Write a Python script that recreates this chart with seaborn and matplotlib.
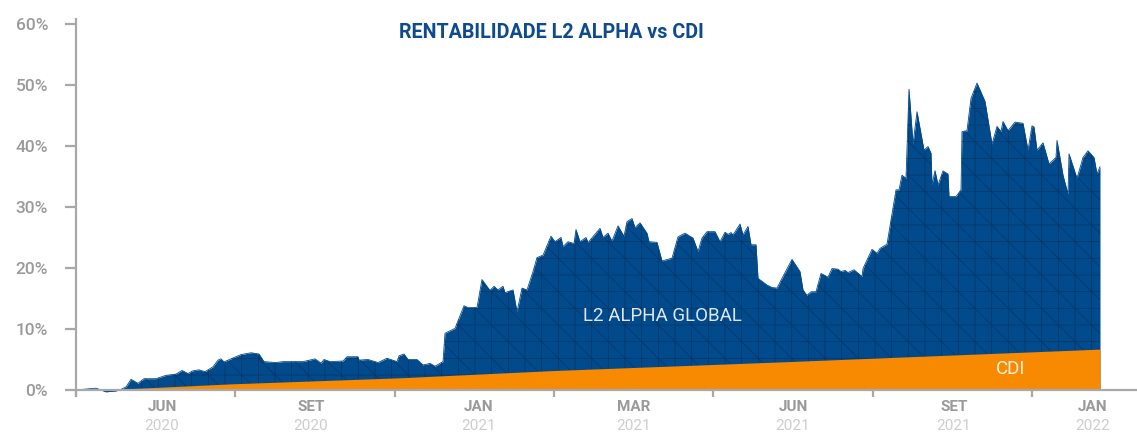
import numpy as np
import matplotlib.pyplot as plt
import matplotlib.transforms as mtransforms
import pandas as pd
import seaborn as sns

# posição ao longo do eixo (0 = início da série) e rentabilidade acumulada (%)
pos_l2 = [0, 20, 25, 30, 40, 45, 50, 55, 62, 68, 80, 90, 100, 106, 112, 117, 123, 129,
          137, 142, 145, 148, 157, 165, 175, 183, 188, 200, 207, 227, 239, 245, 248, 254,
          267, 271, 282, 283, 292, 302, 311, 321, 323, 328, 332, 341, 347, 354, 359, 367,
          369, 379, 388, 392, 401, 406, 414, 418, 422, 427, 429, 437, 441, 446, 451, 457,
          461, 467, 475, 479, 485, 487, 492, 498, 500, 504, 510, 512, 524, 527, 532, 536,
          542, 548, 551, 556, 559, 564, 571, 573, 581, 586, 596, 602, 609, 617, 622, 626,
          631, 639, 644, 649, 652, 655, 657, 664, 667, 672, 675, 680, 682, 691, 696, 701,
          706, 716, 724, 727, 731, 735, 740, 745, 752, 756, 762, 765, 769, 772, 778, 786,
          787, 796, 801, 804, 811, 820, 823, 826, 830, 833, 837, 841, 848, 852, 855, 856,
          859, 862, 867, 872, 873, 880, 885, 886, 891, 895, 901, 909, 916, 921, 925, 927,
          932, 939, 947, 952, 956, 958, 961, 967, 973, 980, 981, 987, 992, 993, 1001, 1007,
          1012, 1018, 1021, 1024]
l2_alpha = [0, 0.3, 0, -0.3, -0.15, 0.1, 0.5, 1.75, 1.1, 1.85, 1.85, 2.4, 2.6, 3.2, 2.7, 3.15, 3.3, 3.0,
            3.8, 4.9, 5.1, 4.6, 5.25, 5.8, 6.1, 5.9, 4.65, 4.5, 4.65, 4.65, 5.1, 4.4, 5.0, 4.65,
            4.75, 5.45, 5.45, 4.9, 5.0, 4.5, 5.2, 4.65, 5.6, 5.9, 5.0, 5.0, 4.1, 4.35, 3.9, 4.65,
            9.3, 10.1, 13.8, 13.5, 13.5, 18.1, 16.3, 17.0, 16.4, 17.0, 15.95, 16.4, 12.8, 16.7, 16.4, 19.4,
            21.7, 22.1, 25.2, 24.3, 25.0, 23.5, 24.3, 24.0, 26.3, 24.3, 25.0, 24.15, 26.5, 25.0, 25.7, 24.4,
            26.9, 25.2, 27.6, 28.1, 26.6, 27.4, 25.7, 24.3, 24.2, 21.15, 21.6, 25.1, 25.7, 24.9, 22.7, 24.9,
            25.95, 25.95, 24.3, 25.85, 25.5, 25.8, 25.4, 27.2, 25.4, 26.8, 23.8, 23.8, 18.3, 17.2, 16.8, 16.7,
            18.3, 21.4, 19.4, 16.4, 15.5, 16.1, 16.1, 19.1, 18.5, 19.9, 19.8, 19.4, 19.6, 19.25, 19.7, 18.6,
            19.9, 23.05, 22.4, 23.2, 23.9, 32.8, 32.8, 35.2, 34.7, 49.3, 40.3, 45.6, 39.3, 39.9, 38.8, 33.6,
            35.95, 33.6, 35.9, 35.4, 31.7, 31.7, 32.8, 42.35, 42.5, 47.8, 50.3, 47.3, 40.3, 43.2, 42.35, 44.0,
            42.5, 43.9, 43.7, 39.3, 43.3, 43.1, 39.3, 40.5, 37.05, 38.1, 40.9, 35.2, 32.1, 38.7, 34.7, 38.1,
            39.2, 38.1, 35.4, 36.6]

pos_cdi = [25, 154, 324, 479, 704, 1024]
cdi = [0, 1.0, 2.0, 3.2, 4.6, 6.7]

meses = ['JUN', 'SET', 'JAN', 'MAR', 'JUN', 'SET', 'JAN']
anos = ['2020', '2020', '2021', '2021', '2021', '2021', '2022']
pos_meses = [86, 235, 403, 558, 717, 878, 1017]  # centro de cada rótulo
banda = 159.3

azul = '#014a8c'
laranja = '#f78a00'
cinza = '#a8a8a8'

sns.set_theme(style='white')
plt.rcParams['font.family'] = ['Roboto', 'DejaVu Sans']
plt.rcParams['hatch.linewidth'] = 0.5

df = pd.DataFrame({'pos': pos_l2, 'l2': l2_alpha})

fig = plt.figure(figsize=(11.37, 4.32), dpi=100)
ax = fig.add_axes([76 / 1137, (432 - 396.1) / 432, (1137 - 76) / 1137, 377.1 / 432])

ax.fill_between(df['pos'], 0, df['l2'], color=azul, linewidth=0, zorder=1)
ax.fill_between(df['pos'], 0, df['l2'], facecolor='none', edgecolor='#063769',
                hatch='+\\', linewidth=0, zorder=1.5)
sns.lineplot(data=df, x='pos', y='l2', ax=ax, color=azul, linewidth=0.6, zorder=1.6)
ax.fill_between(pos_cdi, 0, cdi, color=laranja, linewidth=0, zorder=2)

ax.set_xlim(0, 1061)
ax.set_ylim(-1, 60.8)
ax.set_xlabel('')
ax.set_ylabel('')

ax.set_yticks(range(0, 61, 10))
ax.set_yticklabels([f'{v}%' for v in range(0, 61, 10)])
ax.set_xticks([banda * i for i in range(7)])
ax.set_xticklabels([])

for s in ['top', 'right']:
    ax.spines[s].set_visible(False)
ax.spines['bottom'].set_position(('data', 0))
for s in ['left', 'bottom']:
    ax.spines[s].set_color(cinza)
    ax.spines[s].set_linewidth(1.6)
    ax.spines[s].set_zorder(3)

ax.tick_params(axis='y', direction='out', length=8, width=1.6, color=cinza,
               labelcolor='#9a9a9a', labelsize=12.5, pad=12, left=True)
ax.tick_params(axis='x', direction='out', length=5, width=1.6, color=cinza, bottom=True)
for lbl in ax.get_yticklabels():
    lbl.set_fontweight('medium')

trans = mtransforms.blended_transform_factory(ax.transData, fig.transFigure)
for p, m, a in zip(pos_meses, meses, anos):
    ax.text(p, (432 - 407) / 432, m, transform=trans, ha='center', va='center',
            fontsize=11, color='#9a9a9a', fontweight='bold')
    ax.text(p, (432 - 426) / 432, a, transform=trans, ha='center', va='center',
            fontsize=11, color='#cdcdcd')

fig.text(551.5 / 1137, 1 - 33 / 432, 'RENTABILIDADE L2 ALPHA vs CDI', ha='center', va='center',
         fontsize=14.2, fontweight='bold', color='#0d4a8e')
fig.text(662 / 1137, 1 - 316 / 432, 'L2 ALPHA GLOBAL', ha='center', va='center',
         fontsize=13.5, fontweight='normal', color='#dfe7f1', zorder=5)
fig.text(1011 / 1137, 1 - 369 / 432, 'CDI', ha='center', va='center',
         fontsize=13.5, fontweight='normal', color='#fff1e0', zorder=5)

fig.savefig('out.png', dpi=100)
